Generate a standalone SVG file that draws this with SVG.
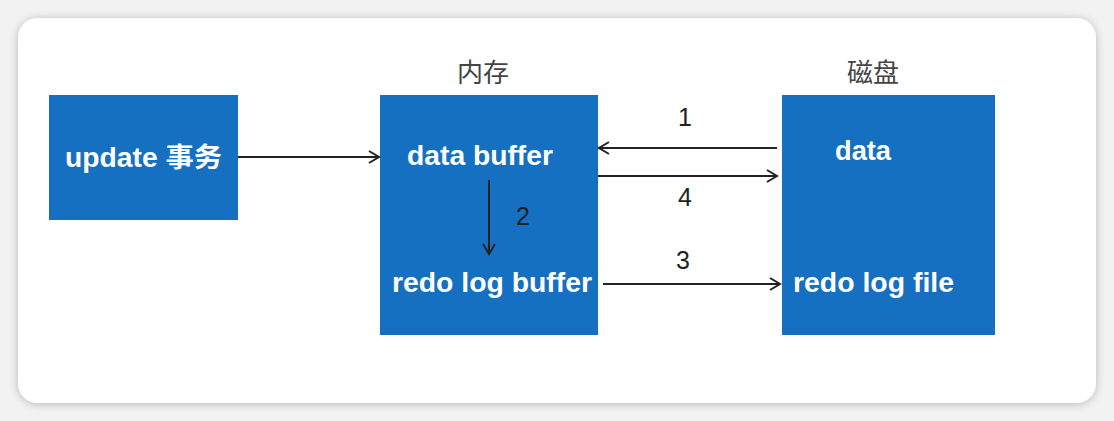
<svg xmlns="http://www.w3.org/2000/svg" width="1114" height="421" viewBox="0 0 1114 421">
<defs>
<filter id="sh" x="-5%" y="-10%" width="110%" height="120%">
<feGaussianBlur in="SourceAlpha" stdDeviation="5"/>
<feOffset dx="0" dy="1"/>
<feComponentTransfer><feFuncA type="linear" slope="0.25"/></feComponentTransfer>
<feMerge><feMergeNode/><feMergeNode in="SourceGraphic"/></feMerge>
</filter>
<marker id="ah" markerWidth="14" markerHeight="14" refX="11" refY="7" orient="auto" markerUnits="userSpaceOnUse">
<path d="M1,1 L11,7 L1,13" fill="none" stroke="#222" stroke-width="2"/>
</marker>
</defs>
<style>
.box{fill:#1570c1}
.lbl{font-family:"Liberation Sans",Arial,"Noto Sans CJK SC",sans-serif;font-weight:bold;font-size:27px;fill:#fff}
.cap{font-family:"Noto Sans CJK SC",sans-serif;font-size:26px;fill:#444}
.num{font-family:"Liberation Sans",Arial,sans-serif;font-size:25px;fill:#222;text-anchor:middle}
.conn{stroke:#222;stroke-width:2;fill:none;marker-end:url(#ah)}
</style>
<rect x="0" y="0" width="1114" height="421" fill="#f2f2f2"/>
<rect x="18" y="18" width="1078" height="385" rx="20" fill="#fff" filter="url(#sh)"/>
<text class="cap" x="483" y="82" text-anchor="middle">内存</text>
<text class="cap" x="873" y="82" text-anchor="middle">磁盘</text>
<g id="update">
<rect class="box" x="49" y="95" width="189" height="125"/>
<text class="lbl" x="65" y="167" textLength="157" lengthAdjust="spacingAndGlyphs">update 事务</text>
</g>
<g id="memory">
<rect class="box" x="380" y="95" width="218" height="240"/>
<text class="lbl" x="407" y="165" textLength="146" lengthAdjust="spacingAndGlyphs">data buffer</text>
<text class="lbl" x="392" y="292" textLength="200" lengthAdjust="spacingAndGlyphs">redo log buffer</text>
</g>
<g id="disk">
<rect class="box" x="782" y="95" width="213" height="240"/>
<text class="lbl" x="835" y="160" textLength="56" lengthAdjust="spacingAndGlyphs">data</text>
<text class="lbl" x="793" y="292" textLength="161" lengthAdjust="spacingAndGlyphs">redo log file</text>
</g>
<g id="connectors">
<line class="conn" x1="238" y1="157" x2="379" y2="157"/>
<line class="conn" x1="777" y1="148" x2="599" y2="148"/>
<line class="conn" x1="598" y1="176" x2="777" y2="176"/>
<line class="conn" x1="603" y1="284" x2="780" y2="284"/>
<line class="conn" x1="489" y1="180" x2="489" y2="254"/>
<text class="num" x="685" y="126">1</text>
<text class="num" x="523" y="225">2</text>
<text class="num" x="683" y="269">3</text>
<text class="num" x="685" y="206">4</text>
</g>
</svg>
